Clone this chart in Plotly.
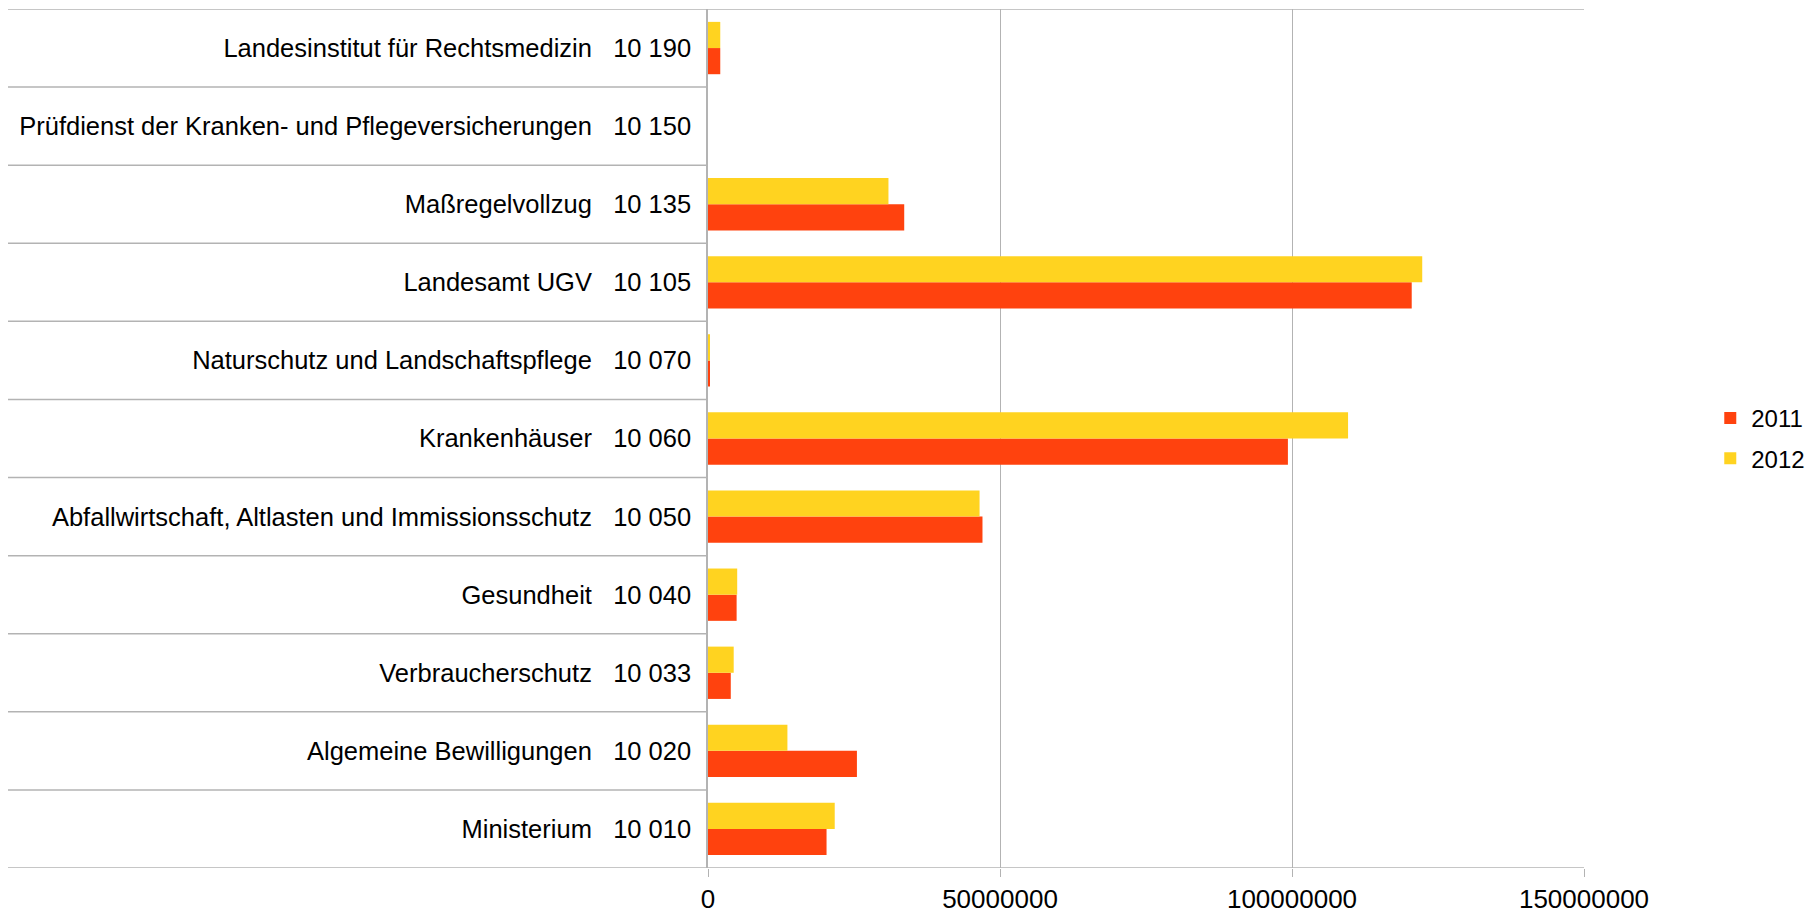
import plotly.graph_objects as go

# Categories (bottom to top) and their budget codes
categories = [
    "Ministerium",
    "Algemeine Bewilligungen",
    "Verbraucherschutz",
    "Gesundheit",
    "Abfallwirtschaft, Altlasten und Immissionsschutz",
    "Krankenhäuser",
    "Naturschutz und Landschaftspflege",
    "Landesamt UGV",
    "Maßregelvollzug",
    "Prüfdienst der Kranken- und Pflegeversicherungen",
    "Landesinstitut für Rechtsmedizin",
]
codes = ["10 010", "10 020", "10 033", "10 040", "10 050", "10 060",
         "10 070", "10 105", "10 135", "10 150", "10 190"]

values_2011 = [20300000, 25500000, 3900000, 4900000, 47000000, 99300000,
               300000, 120500000, 33600000, 0, 2100000]
values_2012 = [21700000, 13600000, 4400000, 5000000, 46500000, 109600000,
               250000, 122300000, 30900000, 0, 2100000]

x_ticks = [0, 50000000, 100000000, 150000000]

RED = "#ff420e"
YELLOW = "#ffd320"
GRID = "#b3b3b3"
FONT = "Liberation Sans, Arial, sans-serif"

ticktext = [f"{n}\u00a0\u00a0\u00a0{c}" for n, c in zip(categories, codes)]

fig = go.Figure()
fig.add_trace(go.Bar(y=categories, x=values_2011, name="2011", orientation="h",
                     legendgroup="a",
                     marker=dict(color=RED, line=dict(width=0))))
fig.add_trace(go.Bar(y=categories, x=values_2012, name="2012", orientation="h",
                     legendgroup="b",
                     marker=dict(color=YELLOW, line=dict(width=0))))

W, H = 1811, 909
L, R, T, B = 700, 235, 1, 49
plot_w = W - L - R
x_left_paper = (0 - L) / plot_w

shapes = []
n = len(categories)
for i in range(n + 1):
    edge = i in (0, n)
    shapes.append(dict(type="line", xref="paper", yref="y",
                       x0=x_left_paper, x1=1 if edge else 0,
                       y0=i - 0.5, y1=i - 0.5,
                       line=dict(color=GRID, width=1.5)))

fig.update_layout(
    width=W, height=H,
    margin=dict(l=L, r=R, t=T, b=B, pad=0, autoexpand=False),
    paper_bgcolor="white", plot_bgcolor="white",
    barmode="group", bargap=0.33, bargroupgap=0,
    font=dict(family=FONT, size=25.5, color="black"),
    showlegend=True,
    legend=dict(x=1.143, y=0.5, xanchor="left", yanchor="middle",
                traceorder="grouped",
                font=dict(family=FONT, size=24),
                itemwidth=32, tracegroupgap=6),
    shapes=shapes,
    xaxis=dict(range=[0, 150000000], tickvals=x_ticks,
               ticktext=[str(v) for v in x_ticks],
               showgrid=True, gridcolor=GRID, gridwidth=1,
               zeroline=False, showline=False,
               ticks="outside", ticklen=8, tickcolor=GRID,
               tickfont=dict(size=26)),
    yaxis=dict(tickvals=categories, ticktext=ticktext,
               range=[-0.5, n - 0.5],
               showgrid=False, zeroline=False,
               showline=True, linecolor=GRID, linewidth=1.5,
               ticks="", ticklabelstandoff=10,
               tickfont=dict(size=25.5)),
)

fig.write_html("out.html")
